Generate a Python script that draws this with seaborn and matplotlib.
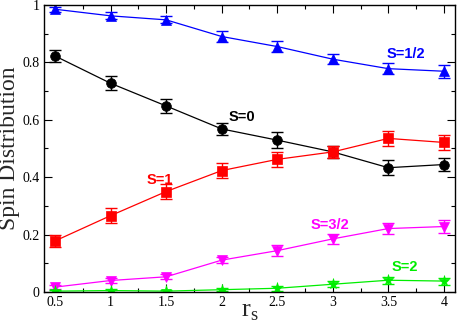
import numpy as np
import pandas as pd
import matplotlib
matplotlib.use("Agg")
import matplotlib.pyplot as plt
from matplotlib.ticker import MultipleLocator
import seaborn as sns

# data
rs = [0.5, 1.0, 1.5, 2.0, 2.5, 3.0, 3.5, 4.0]
s_half = [0.985, 0.962, 0.948, 0.890, 0.855, 0.811, 0.778, 0.769]
s_half_err = [0.008, 0.012, 0.012, 0.018, 0.020, 0.018, 0.020, 0.022]
s_zero = [0.822, 0.727, 0.648, 0.568, 0.529, 0.488, 0.433, 0.444]
s_zero_err = [0.022, 0.025, 0.025, 0.022, 0.028, 0.020, 0.026, 0.024]
s_one = [0.178, 0.266, 0.350, 0.423, 0.462, 0.488, 0.535, 0.521]
s_one_err = [0.022, 0.025, 0.025, 0.025, 0.025, 0.022, 0.026, 0.025]
s_three_half = [0.017, 0.040, 0.053, 0.111, 0.144, 0.185, 0.221, 0.228]
s_three_half_err = [0.006, 0.008, 0.008, 0.010, 0.018, 0.018, 0.020, 0.022]
s_two = [0.003, 0.005, 0.003, 0.008, 0.013, 0.027, 0.041, 0.038]
s_two_err = [0.004, 0.005, 0.004, 0.006, 0.008, 0.010, 0.012, 0.012]

series = [
    ("S=1/2", s_half, s_half_err, "#0000ff", "^", 7),
    ("S=0", s_zero, s_zero_err, "#000000", "o", 7),
    ("S=1", s_one, s_one_err, "#ff0000", "s", 6.5),
    ("S=3/2", s_three_half, s_three_half_err, "#ff00ff", "v", 7),
    ("S=2", s_two, s_two_err, "#00ee00", "*", 8),
]

rows = []
for name, vals, errs, *_ in series:
    for x, y, e in zip(rs, vals, errs):
        rows.append({"rs": x, "value": y, "err": e, "spin": name})
df = pd.DataFrame(rows)

sns.set_theme(style="ticks")
plt.rcParams["font.family"] = ["Liberation Serif", "DejaVu Serif"]

fig = plt.figure(figsize=(4.57, 3.29), dpi=100)
ax = fig.add_axes([0.0963, 0.1125, 0.8993, 0.8725])

for name, vals, errs, color, marker, ms in series:
    sub = df[df["spin"] == name]
    sns.lineplot(data=sub, x="rs", y="value", ax=ax, color=color, lw=0.9,
                 marker=marker, markersize=ms, markeredgecolor=color,
                 markeredgewidth=0.5, legend=False, estimator=None)
    ax.errorbar(sub["rs"], sub["value"], yerr=sub["err"], fmt="none",
                ecolor=color, elinewidth=1.0, capsize=4, capthick=1.0)

# series labels
labels = [
    ("S=1/2", 3.66, 0.829, "#0000ff"),
    ("S=0", 2.18, 0.608, "#000000"),
    ("S=1", 1.44, 0.39, "#ff0000"),
    ("S=3/2", 2.97, 0.232, "#ff00ff"),
    ("S=2", 3.65, 0.087, "#00ee00"),
]
for txt, x, y, c in labels:
    ax.text(x, y, txt, color=c, fontsize=10.5, fontweight="bold",
            family=["Liberation Sans", "DejaVu Sans"], ha="center", va="center")

ax.set_xlim(0.4, 4.1)
ax.set_ylim(0, 1)
ax.xaxis.set_major_locator(MultipleLocator(0.5))
ax.xaxis.set_minor_locator(MultipleLocator(0.25))
ax.yaxis.set_major_locator(MultipleLocator(0.2))
ax.yaxis.set_minor_locator(MultipleLocator(0.1))
ax.set_xticks(rs)
ax.set_xticklabels(["0.5", "1", "1.5", "2", "2.5", "3", "3.5", "4"])
ax.set_yticks([0, 0.2, 0.4, 0.6, 0.8, 1.0])
ax.set_yticklabels(["0", "0.2", "0.4", "0.6", "0.8", "1"])
ax.tick_params(which="both", direction="in", top=True, right=True,
               labelsize=10, width=0.8, colors="black")
ax.tick_params(which="major", length=6, pad=3)
ax.tick_params(which="minor", length=3)
for sp in ax.spines.values():
    sp.set_linewidth(1.0)
    sp.set_color("black")

ax.set_xlabel(r"r$_\mathregular{s}$", fontsize=19)
ax.xaxis.set_label_coords(0.5, -0.03)
ax.set_ylabel("Spin Distribution", fontsize=17)
ax.yaxis.set_label_coords(-0.058, 0.5)

fig.savefig("out.png", dpi=100)
